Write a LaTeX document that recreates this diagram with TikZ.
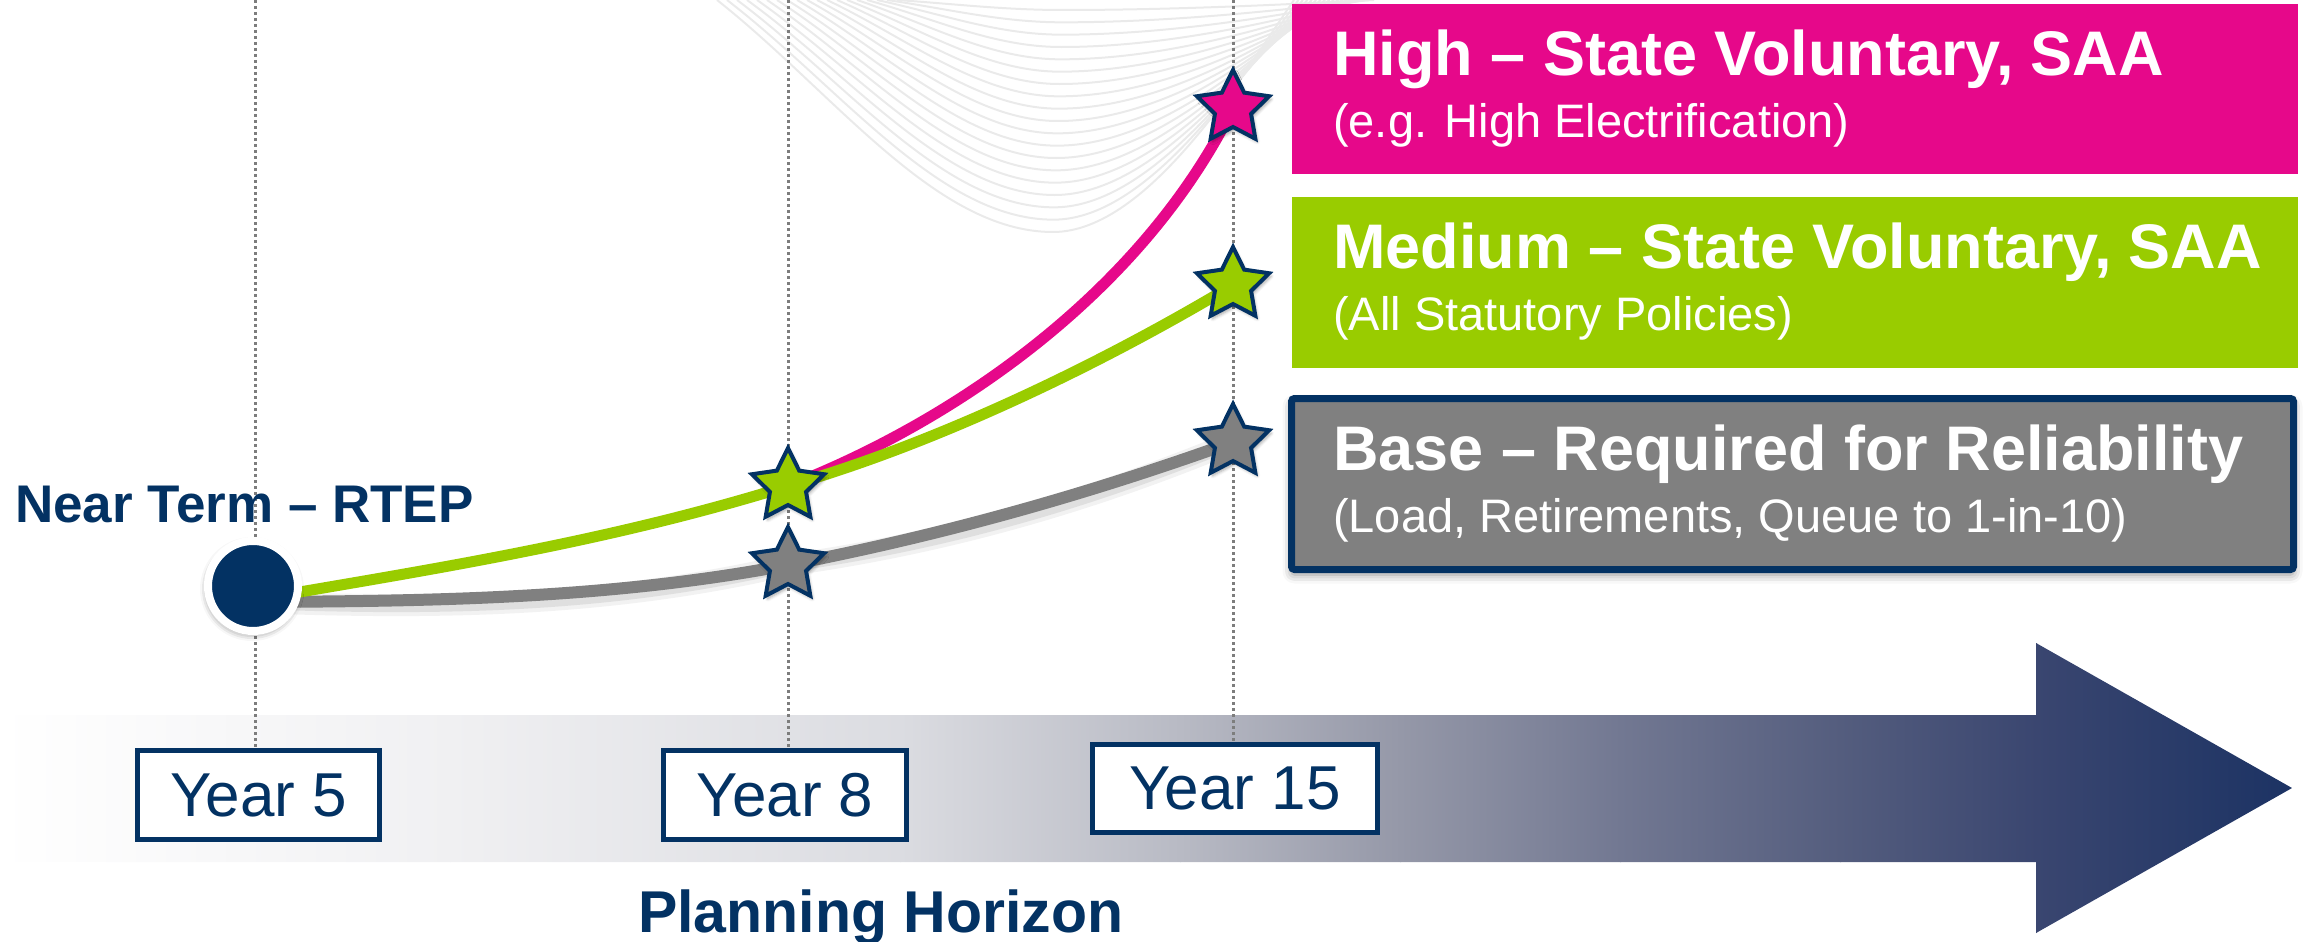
\documentclass[tikz,border=0pt]{standalone}
\usepackage{fontspec}
\setmainfont{Liberation Sans}
\usetikzlibrary{shapes.geometric,shadows,shadows.blur}
\definecolor{navy}{RGB}{3,50,99}
\definecolor{pinkc}{RGB}{230,8,138}
\definecolor{greenc}{RGB}{153,204,0}
\definecolor{grayc}{RGB}{128,128,128}
\definecolor{swooshc}{RGB}{234,234,234}
\definecolor{dotc}{RGB}{125,125,125}
\definecolor{arA}{RGB}{240,240,242}
\definecolor{arB}{RGB}{219,220,225}
\definecolor{arC}{RGB}{184,186,196}
\definecolor{arD}{RGB}{149,152,168}
\definecolor{arE}{RGB}{114,120,146}
\definecolor{arF}{RGB}{84,93,126}
\definecolor{arG}{RGB}{58,70,112}
\definecolor{arH}{RGB}{27,50,99}
\newcommand\myttl{\fontsize{63}{70}\selectfont\bfseries}
\newcommand\mysubt{\fontsize{47}{52}\selectfont}
\begin{document}
\begin{tikzpicture}[x=1pt,y=-1pt,
  swoosh/.style={draw=swooshc,line width=2pt},
  dotline/.style={draw=dotc,line width=3pt,dash pattern=on 3pt off 3pt},
  yearbox/.style={draw=navy,fill=white,line width=5pt,inner sep=0pt,
    font=\fontsize{62}{62}\selectfont,text=navy},
  starnode/.style={star,star points=5,star point ratio=2.0,minimum size=76pt,
    inner sep=0pt,draw=navy,line width=4pt,
    blur shadow={shadow xshift=2pt,shadow yshift=-3pt,shadow blur radius=3pt,shadow opacity=35}},
  ttl/.style={anchor=base west,inner sep=0pt,text=white,font=\myttl},
  subt/.style={anchor=base west,inner sep=0pt,text=white,font=\mysubt},
  bluetext/.style={anchor=base west,inner sep=0pt,text=navy,font=\fontsize{53}{60}\selectfont\bfseries}
]
\useasboundingbox (0,0) rectangle (2310,942);

% decorative swoosh curves
\foreach \i in {0,...,18}{
  \pgfmathsetmacro\t{\i/18}
  \pgfmathsetmacro\yl{232-222*\t}
  \pgfmathsetmacro\xl{717+180*\t}
  \pgfmathsetmacro\xm{1053+10*\t}
  \pgfmathsetmacro\xr{1294+80*\t}
  \pgfmathsetmacro\ca{\xl+0.35*(\xm-\xl)}
  \pgfmathsetmacro\cb{\xm-0.35*(\xm-\xl)}
  \pgfmathsetmacro\cc{\xm+0.4*(\xr-\xm)}
  \pgfmathsetmacro\cd{\xr-0.2*(\xr-\xm)}
  \draw[swoosh] (\xl,0) .. controls (\ca,{0.4*\yl}) and (\cb,\yl) .. (\xm,\yl)
     .. controls (\cc,\yl) and (\cd,{0.3*\yl}) .. (\xr,0);
}

% timeline arrow with gradient
\begin{scope}
\clip (0,715) -- (2036,715) -- (2036,643) -- (2292,788) -- (2036,933) -- (2036,862) -- (0,862) -- cycle;
\shade[left color=white,right color=arA] (0,640) rectangle (451,940);
\shade[left color=arA,right color=arB] (450,640) rectangle (901,940);
\shade[left color=arB,right color=arC] (900,640) rectangle (1181,940);
\shade[left color=arC,right color=arD] (1180,640) rectangle (1401,940);
\shade[left color=arD,right color=arE] (1400,640) rectangle (1621,940);
\shade[left color=arE,right color=arF] (1620,640) rectangle (1841,940);
\shade[left color=arF,right color=arG] (1840,640) rectangle (2037,940);
\shade[left color=arG,right color=arH] (2036,640) rectangle (2300,940);
\end{scope}

% year boxes
\node[yearbox,minimum width=242pt,minimum height=89pt] (y5) at (258.5,795) {Year 5};
\node[yearbox,minimum width=243pt,minimum height=89pt] (y8) at (785,795) {Year 8};
\node[yearbox,minimum width=285pt,minimum height=88pt] (y15) at (1235,788.5) {Year 15};

% dotted guide lines
\coordinate (t5) at (255,0);
\coordinate (t8) at (788,0);
\coordinate (t15) at (1233,0);
\draw[dotline] (t5) -- (t5 |- y5.north);
\draw[dotline] (t8) -- (t8 |- y8.north);
\draw[dotline] (t15) -- (t15 |- y15.north);

% key points
\coordinate (s0) at (253,600);
\coordinate (s0g) at (253,602);
\coordinate (p8) at (788,486);
\coordinate (q8) at (788,565);
\coordinate (h15) at (1233,108);
\coordinate (m15) at (1233,285);
\coordinate (b15) at (1233,442);

% gray line with shadow
\begin{scope}[shift={(1,8)}]
\draw[black,opacity=0.05,line width=22pt] (s0g) .. controls (433,601) and (608,599) .. (q8)
   .. controls (938,536) and (1083,496) .. (b15);
\draw[black,opacity=0.08,line width=14pt] (s0g) .. controls (433,601) and (608,599) .. (q8)
   .. controls (938,536) and (1083,496) .. (b15);
\end{scope}
\draw[grayc,line width=12pt] (s0g) .. controls (433,601) and (608,599) .. (q8)
   .. controls (938,536) and (1083,496) .. (b15);
% pink line
\draw[pinkc,line width=11pt] (p8) .. controls (958,420) and (1143,290) .. (h15);
% green line
\draw[greenc,line width=11pt] (s0) .. controls (433,569) and (608,542) .. (p8)
   .. controls (938,443) and (1103,363) .. (m15);

% start circle
\node[circle,fill=navy,draw=white,line width=8pt,minimum size=90pt,inner sep=0pt,
  blur shadow={shadow xshift=-1pt,shadow yshift=-3pt,shadow blur radius=7pt,shadow opacity=50}] (c0) at (253,586) {};

% stars
\node[starnode,fill=greenc] (sg8) at (p8) {};
\node[starnode,fill=grayc] (sq8) at (q8) {};
\node[starnode,fill=pinkc] (sh15) at (h15) {};
\node[starnode,fill=greenc] (sm15) at (m15) {};
\node[starnode,fill=grayc] (sb15) at (b15) {};

% scenario boxes
\node[fill=pinkc,minimum width=1006pt,minimum height=170pt,inner sep=0pt] (hb) at (1795,89) {};
\node[fill=greenc,minimum width=1006pt,minimum height=171pt,inner sep=0pt] (mb) at (1795,282.5) {};
\node[fill=grayc,draw=navy,line width=7pt,rounded corners=3pt,minimum width=1002pt,minimum height=171pt,inner sep=0pt,
  blur shadow={shadow xshift=0pt,shadow yshift=-5pt,shadow blur radius=9pt,shadow opacity=45}] (bb) at (1792.5,484) {};

\node[ttl] (ht) at (1333,75) {High – State Voluntary, SAA};
\node[subt] (hs) at (1333,137) {(e.g. High Electrification)};
\node[ttl] (mt) at (1333,268) {Medium – State Voluntary, SAA};
\node[subt] (ms) at (1333,330) {(All Statutory Policies)};
\node[ttl] (bt) at (1333,470) {Base – Required for Reliability};
\node[subt] (bs) at (1333,532) {(Load, Retirements, Queue to 1-in-10)};

% labels
\node[bluetext] (nt) at (15,522) {Near Term – RTEP};
\node[bluetext,font=\fontsize{59}{60}\selectfont\bfseries] (ph) at (638,932) {Planning Horizon};
\end{tikzpicture}
\end{document}
